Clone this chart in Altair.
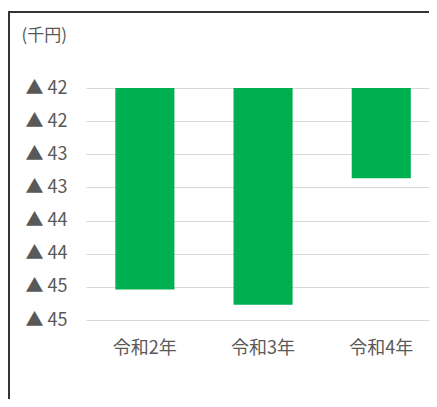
import altair as alt
import pandas as pd

categories = ["令和2年", "令和3年", "令和4年"]
values = [-44.84, -45.07, -43.16]
baseline = -41.8
tick_values = [-41.8, -42.3, -42.8, -43.3, -43.8, -44.3, -44.8, -45.3]

df = pd.DataFrame({"year": categories, "value": values, "base": [baseline] * len(categories)})

FONT = "Noto Sans CJK JP"
GRAY = "#595959"

bars = alt.Chart(df).mark_bar(color="#00B050").encode(
    x=alt.X(
        "year:N",
        sort=categories,
        scale=alt.Scale(paddingInner=0.5, paddingOuter=0.201, align=0.617),
        axis=alt.Axis(
            title=None, labelAngle=0, domain=False, ticks=False, grid=False,
            labelPadding=19, labelFontSize=18, labelColor=GRAY, labelFont=FONT,
        ),
    ),
    y=alt.Y(
        "value:Q",
        scale=alt.Scale(domain=[tick_values[-1], tick_values[0]], nice=False, zero=False),
        axis=alt.Axis(
            values=tick_values,
            labelExpr="'▲ ' + format(abs(datum.value), '.0f')",
            domain=False, ticks=False, grid=True, gridColor="#d9d9d9", gridWidth=1,
            labelPadding=19, labelFontSize=18, labelColor=GRAY, labelFont=FONT,
            title="(千円)", titleAngle=0, titleAlign="left", titleBaseline="middle",
            titleX=-65, titleY=-53, titleFont=FONT, titleFontSize=17,
            titleFontWeight="normal", titleColor=GRAY,
        ),
    ),
    y2="base:Q",
)

frame_top = alt.Chart(df).mark_rule(color="#333333", strokeWidth=2).encode(
    x=alt.value(-78), x2=alt.value(360), y=alt.value(-76)
)
frame_left = alt.Chart(df).mark_rule(color="#333333", strokeWidth=2).encode(
    x=alt.value(-77), y=alt.value(-77), y2=alt.value(340)
)

chart = alt.layer(bars, frame_top, frame_left).properties(
    width=343, height=232,
    autosize=alt.AutoSizeParams(type="none"),
    padding={"left": 78, "top": 80, "right": 0, "bottom": 79},
).configure_view(stroke=None)

chart.save("out.html", embed_options={"renderer": "svg", "actions": False})
